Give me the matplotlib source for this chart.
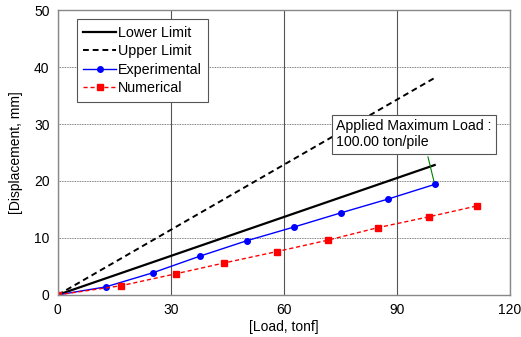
import matplotlib.pyplot as plt

plt.rcParams['font.family'] = ['Liberation Sans', 'DejaVu Sans']

# limit lines
lim_load = [0, 100]
lower_disp = [0, 22.8]
upper_disp = [0, 38.1]

# measured / computed curves
exp_load = [0, 12.7, 25.3, 37.7, 50.1, 62.6, 75.1, 87.5, 100.0]
exp_disp = [0, 1.4, 3.9, 6.8, 9.5, 11.9, 14.4, 16.8, 19.4]
num_load = [0, 16.7, 31.3, 44.1, 58.1, 71.6, 84.9, 98.4, 111.1]
num_disp = [0, 1.6, 3.7, 5.6, 7.6, 9.6, 11.8, 13.7, 15.6]

fig = plt.figure(figsize=(5.21, 3.37), dpi=100)
ax = fig.add_axes([0.111, 0.125, 0.868, 0.845])

ax.plot(lim_load, lower_disp, color='black', lw=1.6, label='Lower Limit')
ax.plot(lim_load, upper_disp, color='black', lw=1.4, ls=(0, (3, 2)), label='Upper Limit')
ax.plot(exp_load, exp_disp, color='blue', lw=1, marker='o', ms=4, label='Experimental')
ax.plot(num_load, num_disp, color='red', lw=1, ls=(0, (3, 2)), marker='s', ms=4, label='Numerical')

ax.set_xlim(0, 120)
ax.set_ylim(0, 50)
ax.set_xticks([0, 30, 60, 90, 120])
ax.set_yticks([0, 10, 20, 30, 40, 50])
ax.tick_params(length=0, labelsize=10, pad=6)
ax.xaxis.grid(True, color='#555555', lw=0.8)
ax.yaxis.grid(True, color='#555555', lw=0.6, ls=(0, (1, 1)))
ax.set_axisbelow(True)
for s in ax.spines.values():
    s.set_color('#888888')
    s.set_linewidth(1)

ax.set_xlabel('[Load, tonf]', fontsize=10, labelpad=2)
ax.set_ylabel('[Displacement, mm]', fontsize=10, labelpad=8)

leg = ax.legend(loc='upper left', bbox_to_anchor=(0.042, 0.968), borderaxespad=0,
                fontsize=10.3, handlelength=2.3, handletextpad=0.1, labelspacing=0.32,
                fancybox=False, edgecolor='#555555', framealpha=1, borderpad=0.45)
leg.get_frame().set_linewidth(0.8)

ax.annotate('Applied Maximum Load :\n100.00 ton/pile', xy=(100, 19.4),
            xytext=(73.8, 28.2), fontsize=10.2, va='center', ha='left',
            bbox=dict(boxstyle='square,pad=0.3', fc='white', ec='#555555', lw=0.8),
            arrowprops=dict(arrowstyle='-', color='green', lw=0.8, relpos=(0.58, 0)))

fig.savefig('out.png', dpi=100)
